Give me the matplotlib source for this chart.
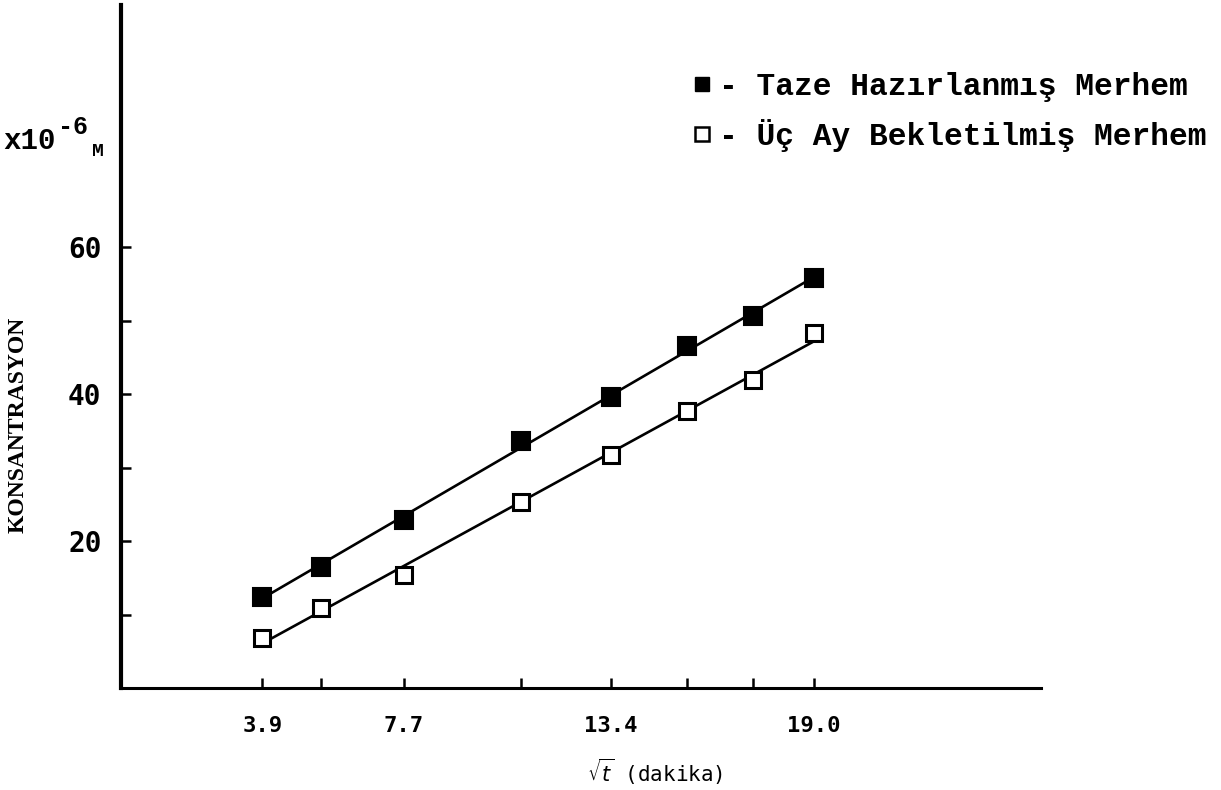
import numpy as np
import matplotlib
matplotlib.use('Agg')
import matplotlib.pyplot as plt
from matplotlib.lines import Line2D

# sqrt(t) values for t = 15, 30, 60, 120, 180, 240, 300, 360 min
sqrt_t = [3.87, 5.48, 7.75, 10.95, 13.42, 15.49, 17.32, 18.97]
x_tick_labels = ['3.9', '', '7.7', '', '13.4', '', '', '19.0']

taze = [12.4, 16.5, 22.9, 33.7, 39.6, 46.5, 50.6, 55.8]     # Taze Hazırlanmış Merhem
uc_ay = [6.8, 10.9, 15.4, 25.3, 31.7, 37.7, 42.0, 48.3]     # Üç Ay Bekletilmiş Merhem

y_ticks = [10, 20, 30, 40, 50, 60]
y_tick_labels = ['', '20', '', '40', '', '60']

legend_labels = ['- Taze Hazırlanmış Merhem', '- Üç Ay Bekletilmiş Merhem']

mono = 'Liberation Mono'
mono2 = 'DejaVu Sans Mono'

fig = plt.figure(figsize=(12.21, 7.9), dpi=100)
ax = fig.add_axes([121/1221, 102/790, 920/1221, 683/790])

# straight lines drawn through the points (least squares), then the markers
x = np.array(sqrt_t)
xl = np.array([x[0], x[-1]])
for y in [taze, uc_ay]:
    k, b = np.polyfit(x, y, 1)
    ax.plot(xl, k * xl + b, color='black', lw=1.9)

ax.plot(sqrt_t, taze, ls='none', marker='s', ms=12.5,
        mfc='black', mec='black', mew=1.5)
ax.plot(sqrt_t, uc_ay, ls='none', marker='s', ms=12,
        mfc='white', mec='black', mew=2.2)

ax.set_xlim(0, 25.2)
ax.set_ylim(0, 93)

for s in ['top', 'right']:
    ax.spines[s].set_visible(False)
ax.spines['left'].set_linewidth(3)
ax.spines['bottom'].set_linewidth(2.2)

ax.set_xticks(sqrt_t)
ax.set_xticklabels(x_tick_labels, fontfamily=mono2, fontweight='bold', fontsize=16)
ax.set_yticks(y_ticks)
ax.set_yticklabels(y_tick_labels, fontfamily=mono2, fontweight='bold', fontsize=20)
ax.tick_params(axis='x', direction='in', length=7, width=1.8, pad=20)
ax.tick_params(axis='y', direction='in', length=7, width=1.8, pad=14)

ax.text(0.58, -0.123, r'$\sqrt{t}$ (dakika)', transform=ax.transAxes,
        fontfamily=mono2, fontsize=15, ha='center', va='center')
ax.set_ylabel('KONSANTRASYON', fontfamily='Liberation Serif', fontweight='bold',
              fontsize=17)
ax.yaxis.set_label_coords(-0.1, 0.385)

# x10^-6 M unit label, pieces placed by hand like the typed original
fig.text(3/1221, 1 - 141/790, 'x10', fontfamily=mono, fontweight='bold',
         fontsize=21, va='center')
fig.text(58/1221, 1 - 127/790, '-6', fontfamily=mono, fontweight='bold',
         fontsize=18, va='center')
fig.text(92/1221, 1 - 152/790, 'M', fontfamily=mono, fontweight='bold',
         fontsize=14, va='center')

handles = [Line2D([], [], ls='none', marker='s', ms=10.5, mfc='black', mec='black'),
           Line2D([], [], ls='none', marker='s', ms=9.5, mfc='white', mec='black', mew=1.8)]
ax.legend(handles, legend_labels, loc='upper left', bbox_to_anchor=(0.624, 1 - 67/683),
          frameon=False, handlelength=0.45, handletextpad=0.3, labelspacing=0.55,
          borderaxespad=0, borderpad=0,
          prop={'family': mono, 'weight': 'bold', 'size': 22.5})

fig.savefig('out.png', dpi=100)
